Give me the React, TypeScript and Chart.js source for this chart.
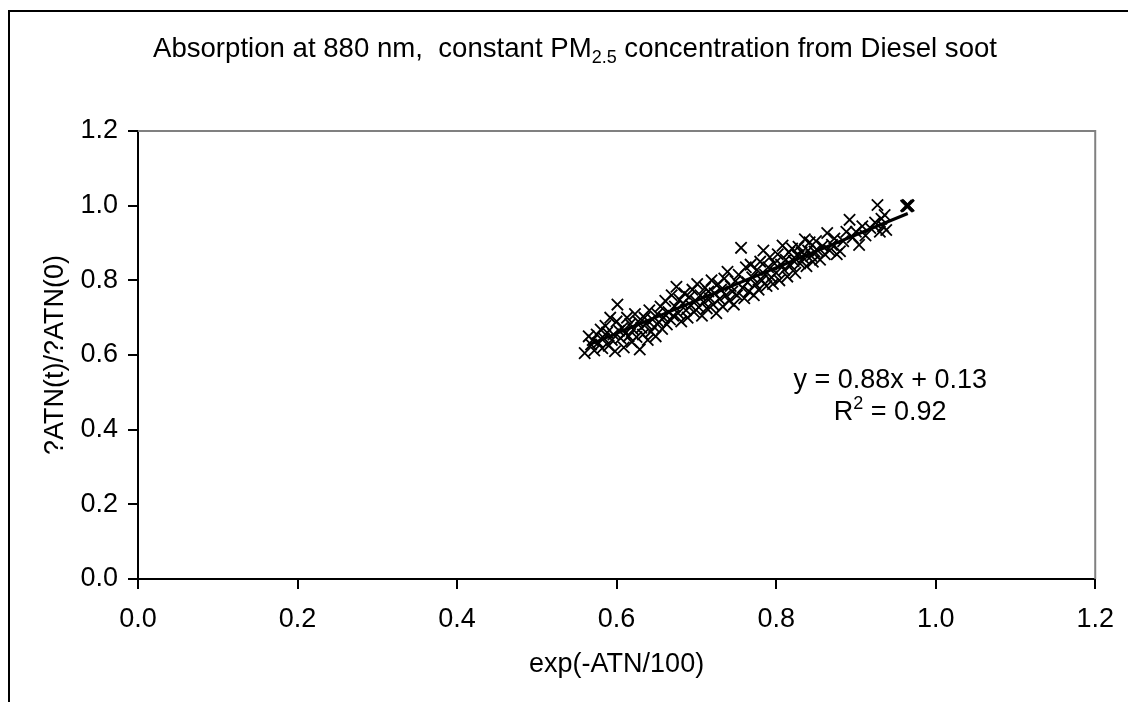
import React, { useEffect, useRef } from "react";
import { Chart, registerables } from "chart.js";

Chart.register(...registerables);

// ---- data ----
const xValues = [
  0.560, 0.565, 0.568, 0.570, 0.572, 0.575, 0.577, 0.580, 0.582, 0.584,
  0.586, 0.588, 0.590, 0.592, 0.594, 0.596, 0.598, 0.600, 0.601, 0.603,
  0.605, 0.607, 0.609, 0.611, 0.613, 0.615, 0.617, 0.619, 0.621, 0.623,
  0.625, 0.627, 0.629, 0.631, 0.633, 0.635, 0.637, 0.639, 0.641, 0.643,
  0.645, 0.647, 0.649, 0.651, 0.653, 0.655, 0.657, 0.659, 0.661, 0.663,
  0.665, 0.667, 0.669, 0.671, 0.673, 0.675, 0.677, 0.679, 0.681, 0.683,
  0.685, 0.687, 0.689, 0.691, 0.693, 0.695, 0.697, 0.699, 0.701, 0.703,
  0.705, 0.707, 0.709, 0.711, 0.713, 0.715, 0.717, 0.719, 0.721, 0.723,
  0.725, 0.727, 0.729, 0.731, 0.733, 0.735, 0.737, 0.739, 0.741, 0.743,
  0.745, 0.747, 0.749, 0.751, 0.753, 0.756, 0.758, 0.760, 0.762, 0.764,
  0.766, 0.768, 0.770, 0.772, 0.774, 0.776, 0.778, 0.780, 0.782, 0.784,
  0.786, 0.788, 0.790, 0.792, 0.794, 0.796, 0.798, 0.800, 0.802, 0.804,
  0.806, 0.808, 0.810, 0.812, 0.814, 0.816, 0.818, 0.820, 0.822, 0.824,
  0.826, 0.828, 0.830, 0.832, 0.834, 0.836, 0.838, 0.840, 0.842, 0.844,
  0.846, 0.848, 0.850, 0.852, 0.855, 0.858, 0.861, 0.864, 0.867, 0.870,
  0.873, 0.876, 0.880, 0.884, 0.888, 0.892, 0.896, 0.900, 0.904, 0.908,
  0.912, 0.918, 0.924, 0.927, 0.930, 0.932, 0.934, 0.936, 0.938, 0.963,
  0.964, 0.965, 0.966,
];
const yValues = [
  0.605, 0.650, 0.628, 0.640, 0.612, 0.655, 0.633, 0.668, 0.618, 0.645,
  0.678, 0.660, 0.625, 0.700, 0.640, 0.655, 0.610, 0.690, 0.735, 0.665,
  0.645, 0.672, 0.620, 0.658, 0.700, 0.650, 0.683, 0.635, 0.668, 0.710,
  0.648, 0.690, 0.615, 0.673, 0.655, 0.700, 0.683, 0.640, 0.720, 0.662,
  0.695, 0.675, 0.650, 0.710, 0.688, 0.730, 0.670, 0.700, 0.745, 0.682,
  0.715, 0.695, 0.760, 0.705, 0.730, 0.783, 0.712, 0.748, 0.690, 0.738,
  0.765, 0.720, 0.700, 0.755, 0.733, 0.775, 0.715, 0.745, 0.790, 0.728,
  0.760, 0.705, 0.742, 0.780, 0.725, 0.770, 0.752, 0.800, 0.735, 0.765,
  0.712, 0.790, 0.750, 0.775, 0.730, 0.805, 0.760, 0.823, 0.745, 0.785,
  0.770, 0.735, 0.798, 0.760, 0.815, 0.887, 0.780, 0.752, 0.835, 0.795,
  0.770, 0.842, 0.808, 0.760, 0.790, 0.828, 0.775, 0.850, 0.800, 0.880,
  0.815, 0.785, 0.835, 0.862, 0.808, 0.790, 0.845, 0.820, 0.870, 0.800,
  0.842, 0.893, 0.828, 0.855, 0.810, 0.875, 0.840, 0.885, 0.852, 0.820,
  0.868, 0.890, 0.845, 0.875, 0.860, 0.910, 0.838, 0.880, 0.902, 0.865,
  0.850, 0.877, 0.905, 0.880, 0.855, 0.892, 0.870, 0.927, 0.880, 0.895,
  0.912, 0.870, 0.878, 0.905, 0.930, 0.962, 0.915, 0.930, 0.895, 0.945,
  0.920, 0.940, 0.955, 1.002, 0.930, 0.965, 0.945, 0.975, 0.935, 1.000,
  0.998, 1.002, 1.000,
];
const trendX = [0.565, 0.965];
const trendY = [0.627, 0.979];

const xTicks = [0, 0.2, 0.4, 0.6, 0.8, 1.0, 1.2];
const yTicks = [0, 0.2, 0.4, 0.6, 0.8, 1.0, 1.2];

const titleParts = ["Absorption at 880 nm,  constant PM", "2.5", " concentration from Diesel soot"];
const xTitle = "exp(-ATN/100)";
const yTitle = "?ATN(t)/?ATN(0)";
const eqLine1 = "y = 0.88x + 0.13";
const eqLine2 = ["R", "2", " = 0.92"];
const eqPos = { x: 0.943, y: 0.512 };

const FONT = "'Liberation Sans', Arial, sans-serif";
const FS = 27;

const framePlugin = {
  id: "framePlugin",
  beforeDraw(chart: any) {
    const ctx = chart.ctx;
    ctx.save();
    ctx.fillStyle = "#ffffff";
    ctx.fillRect(0, 0, chart.width, chart.height);
    ctx.strokeStyle = "#000000";
    ctx.lineWidth = 2;
    ctx.beginPath();
    ctx.moveTo(9, chart.height);
    ctx.lineTo(9, 11);
    ctx.lineTo(chart.width, 11);
    ctx.stroke();
    ctx.restore();
  },
  beforeDatasetsDraw(chart: any) {
    const ctx = chart.ctx;
    const a = chart.chartArea;
    ctx.save();
    ctx.strokeStyle = "#808080";
    ctx.lineWidth = 2;
    ctx.beginPath();
    ctx.moveTo(a.left, a.top);
    ctx.lineTo(a.right, a.top);
    ctx.lineTo(a.right, a.bottom);
    ctx.stroke();
    ctx.restore();
  },
  afterDraw(chart: any) {
    const ctx = chart.ctx;
    ctx.save();
    ctx.fillStyle = "#000000";
    ctx.textBaseline = "alphabetic";
    const big = `${FS}px ${FONT}`;
    const tbig = `27.6px ${FONT}`;
    const small = `18px ${FONT}`;
    ctx.font = tbig;
    const w0 = ctx.measureText(titleParts[0]).width;
    const w2 = ctx.measureText(titleParts[2]).width;
    ctx.font = small;
    const w1 = ctx.measureText(titleParts[1]).width;
    const total = w0 + w1 + w2;
    let x = 575 - total / 2;
    const base = 57;
    ctx.textAlign = "left";
    ctx.font = tbig;
    ctx.fillText(titleParts[0], x, base);
    x += w0;
    ctx.font = small;
    ctx.fillText(titleParts[1], x, base + 6);
    x += w1;
    ctx.font = tbig;
    ctx.fillText(titleParts[2], x, base);

    const xs = chart.scales.x;
    const ys = chart.scales.y;
    const cx = xs.getPixelForValue(eqPos.x);
    const by = ys.getPixelForValue(eqPos.y);
    ctx.font = big;
    ctx.textAlign = "center";
    ctx.fillText(eqLine1, cx, by);
    const r0 = ctx.measureText(eqLine2[0]).width;
    const r2 = ctx.measureText(eqLine2[2]).width;
    ctx.font = small;
    const r1 = ctx.measureText(eqLine2[1]).width;
    let rx = cx - (r0 + r1 + r2) / 2;
    const rb = by + 32;
    ctx.textAlign = "left";
    ctx.font = big;
    ctx.fillText(eqLine2[0], rx, rb);
    rx += r0;
    ctx.font = small;
    ctx.fillText(eqLine2[1], rx, rb - 11);
    rx += r1;
    ctx.font = big;
    ctx.fillText(eqLine2[2], rx, rb);
    ctx.restore();
  },
};

export default function App() {
  const ref = useRef<HTMLCanvasElement | null>(null);
  useEffect(() => {
    if (!ref.current) return;
    const points = xValues.map((v, i) => ({ x: v, y: yValues[i] }));
    const trend = trendX.map((v, i) => ({ x: v, y: trendY[i] }));
    const tickFont = { family: FONT, size: FS };
    const chart = new Chart(ref.current, {
      type: "scatter",
      data: {
        datasets: [
          {
            type: "scatter",
            data: points,
            pointStyle: "crossRot",
            pointRadius: 8,
            pointBorderWidth: 1.8,
            borderColor: "#000000",
            backgroundColor: "#000000",
            order: 2,
          },
          {
            type: "line",
            data: trend,
            borderColor: "#000000",
            borderWidth: 3,
            pointRadius: 0,
            fill: false,
            order: 1,
          } as any,
        ],
      },
      options: {
        animation: false,
        responsive: false,
        devicePixelRatio: 1,
        layout: { padding: { left: 0, right: 29, top: 131, bottom: 0 } },
        plugins: { legend: { display: false }, tooltip: { enabled: false }, title: { display: false } },
        scales: {
          x: {
            type: "linear",
            min: 0,
            max: 1.2,
            afterBuildTicks: (s: any) => {
              s.ticks = xTicks.map((v) => ({ value: v }));
            },
            afterFit: (s: any) => {
              s.height = 123;
            },
            ticks: {
              font: tickFont,
              color: "#000000",
              padding: 14,
              maxRotation: 0,
              autoSkip: false,
              callback: (v: any) => Number(v).toFixed(1),
            },
            grid: { drawOnChartArea: false, drawTicks: true, tickLength: 10, color: "#000000", lineWidth: 2 },
            border: { display: true, color: "#000000", width: 2 },
            title: { display: true, text: xTitle, font: tickFont, color: "#000000", padding: { top: 0, bottom: 21 } },
          },
          y: {
            type: "linear",
            min: 0,
            max: 1.2,
            afterBuildTicks: (s: any) => {
              s.ticks = yTicks.map((v) => ({ value: v }));
            },
            afterFit: (s: any) => {
              s.width = 138;
            },
            ticks: {
              font: tickFont,
              color: "#000000",
              padding: 10,
              autoSkip: false,
              callback: (v: any) => Number(v).toFixed(1),
            },
            grid: { drawOnChartArea: false, drawTicks: true, tickLength: 10, color: "#000000", lineWidth: 2 },
            border: { display: true, color: "#000000", width: 2 },
            title: { display: true, text: yTitle, font: tickFont, color: "#000000", padding: { top: 39, bottom: 0 } },
          },
        },
      },
      plugins: [framePlugin],
    });
    return () => chart.destroy();
  }, []);
  return (
    <div style={{ position: "fixed", left: 0, top: 0, width: 1128, height: 702, background: "#fff" }}>
      <canvas ref={ref} width={1128} height={702} style={{ width: 1128, height: 702, display: "block" }} />
    </div>
  );
}
